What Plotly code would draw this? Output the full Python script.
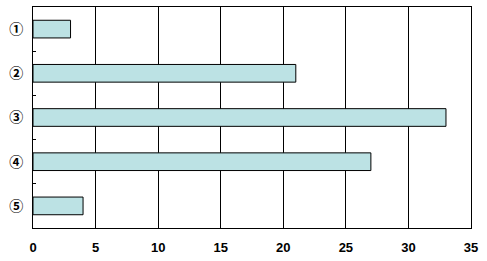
import plotly.graph_objects as go

categories = ["①", "②", "③", "④", "⑤"]
values = [3, 21, 33, 27, 4]
x_ticks = [0, 5, 10, 15, 20, 25, 30, 35]

fig = go.Figure(go.Bar(
    y=categories, x=values, orientation="h", width=0.4,
    marker=dict(color="#BCE2E4", line=dict(color="black", width=1)),
))

fig.update_layout(
    width=487, height=261,
    margin=dict(l=33, r=16, t=6, b=29),
    paper_bgcolor="white", plot_bgcolor="white",
    showlegend=False,
    font=dict(family="Arial", size=12, color="black"),
)
fig.update_xaxes(
    range=[0, 35], tickvals=x_ticks, ticktext=[str(v) for v in x_ticks],
    showgrid=True, gridcolor="black", gridwidth=1,
    showline=True, linecolor="black", linewidth=1, mirror=True,
    zeroline=False, ticks="", ticklabelstandoff=7,
    tickfont=dict(family="Liberation Sans", size=13, weight="bold"),
)
fig.update_yaxes(
    autorange="reversed", type="category",
    showgrid=False, showline=True, linecolor="black", linewidth=1, mirror=True,
    ticks="inside", tickson="boundaries", ticklen=3, tickcolor="black",
    ticklabelstandoff=6,
    tickfont=dict(family="Noto Sans CJK JP", size=14, weight="bold"),
)

fig.write_html("out.html")
